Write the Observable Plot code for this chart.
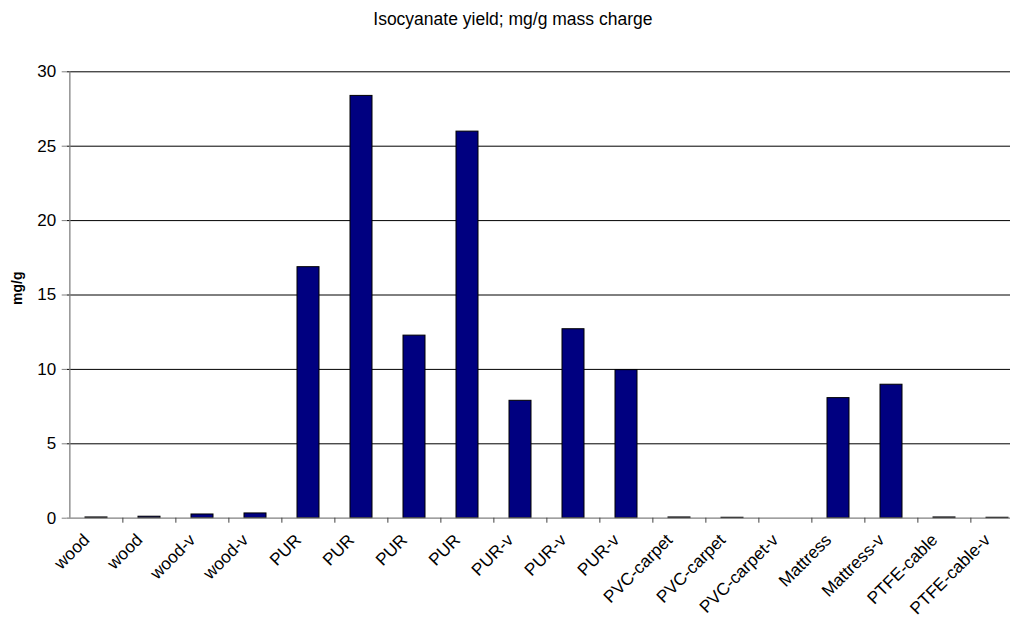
<!DOCTYPE html>
<html>
<head>
<meta charset="utf-8">
<script src="https://cdn.jsdelivr.net/npm/d3@7"></script>
<script src="https://cdn.jsdelivr.net/npm/@observablehq/plot@0.6"></script>
<style>
  html, body { margin: 0; padding: 0; background: #fff; }
  svg { display: block; font-family: "Liberation Sans", Arial, sans-serif; }
</style>
</head>
<body>
<div id="chart"></div>
<script>
const title = "Isocyanate yield; mg/g mass charge";
const yLabel = "mg/g";
const categories = ["wood","wood","wood-v","wood-v","PUR","PUR","PUR","PUR","PUR-v","PUR-v","PUR-v","PVC-carpet","PVC-carpet","PVC-carpet-v","Mattress","Mattress-v","PTFE-cable","PTFE-cable-v"];
const values = [0.05, 0.1, 0.25, 0.32, 16.87, 28.38, 12.27, 25.98, 7.89, 12.7, 9.95, 0.05, 0.03, 0, 8.07, 8.97, 0.05, 0.03];
const yTicks = [0, 5, 10, 15, 20, 25, 30];

const idx = categories.map((_, i) => i);
const data = idx.map(i => ({i, cat: categories[i], v: values[i]}));

const W = 1010, H = 619;
const mL = 66.7, mT = 71.3, mB = 619 - 517.7;
const xRange = [66.7, 1025.7];
const step = (xRange[1] - xRange[0]) / categories.length;

const chart = Plot.plot({
  width: W,
  height: H,
  marginLeft: mL,
  marginRight: 0,
  marginTop: mT,
  marginBottom: mB,
  style: {fontFamily: "'Liberation Sans', Arial, sans-serif", fontSize: "17px", background: "#fff", overflow: "hidden"},
  x: {type: "band", domain: idx, range: xRange, paddingInner: 0.59, paddingOuter: 0.295},
  y: {domain: [0, 30]},
  marks: [
    Plot.ruleY(yTicks.filter(t => t > 0), {stroke: "#000", strokeWidth: 1}),
    Plot.barY(data, {x: "i", y: "v", fill: "#000080", stroke: "#000", strokeWidth: 1}),
    Plot.ruleY([0], {stroke: "#808080", strokeWidth: 1.3}),
    Plot.ruleX([0], {x: d => d, y1: 0, y2: 30, dx: -step / 2, stroke: "#808080", strokeWidth: 1.3}),
    Plot.axisY({ticks: yTicks, tickSize: 5, tickPadding: 6, fontSize: 17, label: null, stroke: "#808080", color: "#000"}),
    Plot.ruleX(idx.slice(1), {x: d => d, y1: 0, y2: 0, dx: -step / 2, insetBottom: -5, stroke: "#404040"}),
    Plot.axisX({tickFormat: i => categories[i], tickRotate: -45, tickSize: 0, tickPadding: 10, fontSize: 17.2, label: null, dx: -10, dy: 9}),
    Plot.text([title], {text: d => d, frameAnchor: "top", dy: -47, dx: -26, fontSize: 17.5, lineAnchor: "bottom", fill: "#000"}),
    Plot.text([yLabel], {text: d => d, frameAnchor: "left", dx: -50, dy: 10, rotate: -90, fontSize: 14, fontWeight: "bold", fill: "#000"})
  ]
});

document.getElementById("chart").appendChild(chart);
</script>
</body>
</html>
